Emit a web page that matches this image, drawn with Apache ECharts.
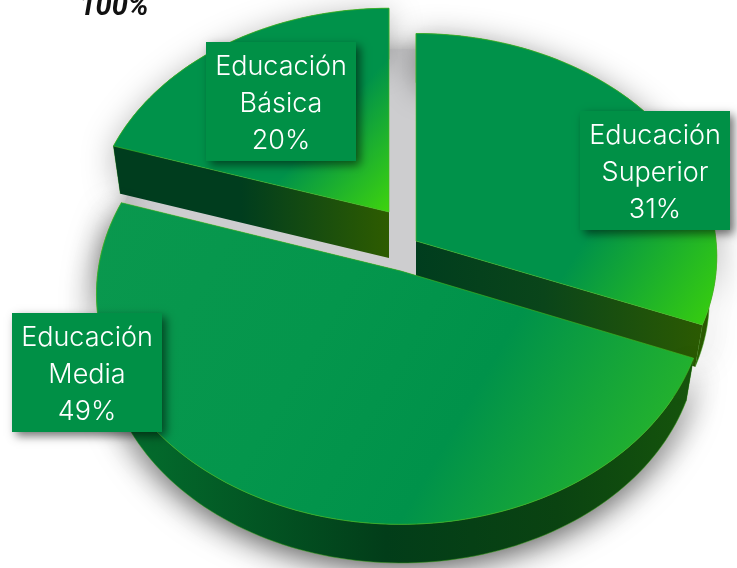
<!DOCTYPE html>
<html><head><meta charset="utf-8">
<style>html,body{margin:0;padding:0;background:#fff}#c{width:737px;height:568px}</style>
<script src="https://cdn.jsdelivr.net/npm/echarts@6/dist/echarts.min.js"></script>
</head><body><div id="c"></div>
<script>
var categories = ["Educación Superior", "Educación Media", "Educación Básica"];
var values = [31, 49, 20];
var totalLabel = "100%";

// geometry of each exploded slice (order as categories)
var sliceGeom = [
  {cx:416, cy:241, rx:300, ry:222, k:0.07, d:44, sh:0.4,
   top:[[580,248],[708,330],['#00924a',0],['#38ce0e',1]],
   wall:[[416,0],[700,0],['#003d1e',0],['#0a451a',0.45],['#2b5a02',1]]},
  {cx:401, cy:271, rx:303, ry:228, k:0.10, d:45, sh:0.7,
   top:[[130,150],[680,470],['#0a984e',0],['#04964c',0.4],['#00924a',0.66],['#2ab828',1]],
   wall:[[130,0],[700,0],['#046e2e',0],['#033e1a',0.45],['#0b4412',0.75],['#17560c',1]]},
  {cx:389, cy:212, rx:296, ry:218, k:0.07, d:46, sh:0.3,
   top:[[310,145],[392,218],['#00924a',0],['#42d80a',1]],
   wall:[[120,0],[389,0],['#003d1e',0],['#003d1e',0.45],['#2e5c00',1]]}
];
var boxes = [
  {x:580, y:111, w:150, h:119},
  {x:12,  y:313, w:150, h:119},
  {x:206, y:42,  w:150, h:119}
];
var drawOrder = [2, 0, 1];
var TOTAL = values.reduce(function(a,b){return a+b;},0);

function project(g, deg, scale, dy){
  var t = deg*Math.PI/180, u = Math.sin(t), v = Math.cos(t);
  var s = scale/(1+g.k*v);
  return [g.cx + g.rx*u*s, g.cy + dy - g.ry*v*s];
}
function arc(g, a0, a1, scale, dy){
  var pts = [], n = Math.max(8, Math.ceil(Math.abs(a1-a0)/1.5));
  for (var i=0;i<=n;i++) pts.push(project(g, a0+(a1-a0)*i/n, scale, dy));
  return pts;
}
function grad(spec){
  return new echarts.graphic.LinearGradient(spec[0][0], spec[0][1], spec[1][0], spec[1][1],
    spec.slice(2).map(function(s){return {offset:s[1], color:s[0]};}), true);
}
function angles(i){
  var before = 0;
  for (var j=0;j<i;j++) before += values[j];
  return [before/TOTAL*360, (before+values[i])/TOTAL*360];
}
var BOTTOM = 0.975;

function renderBackdrop(){
  var g = {cx:403, cy:250, rx:290, ry:215, k:0.07};
  return {type:'polygon', shape:{points:arc(g,0,360,1,0)},
    style:{fill:'#cdcdcf', shadowBlur:22, shadowColor:'rgba(0,0,0,0.35)'}};
}
function renderSlice(params, api){
  var i = api.value(0), g = sliceGeom[i], a = angles(i);
  var topArc = arc(g, a[0], a[1], 1, 0);
  var botArc = arc(g, a[0], a[1], BOTTOM, g.d);
  var apex = [g.cx, g.cy], apexB = [g.cx, g.cy+g.d];
  var kids = [];
  kids.push({type:'polygon', shape:{points:topArc.concat(botArc.slice().reverse())},
    style:{fill:grad(g.wall), stroke:'#3aa018', lineWidth:0.5,
      shadowBlur:32, shadowColor:'rgba(0,0,0,'+g.sh+')', shadowOffsetX:0, shadowOffsetY:5}});
  [[a[0], 0],[a[1], 1]].forEach(function(c){
    var t = project(g, c[0], 1, 0), b = project(g, c[0], BOTTOM, g.d);
    kids.push({type:'polygon', shape:{points:[apex, t, b, apexB]},
      style:{fill:grad(g.wall)}});
  });
  kids.push({type:'polygon', shape:{points:[apex].concat(topArc)},
    style:{fill:grad(g.top), stroke:'#46bd1e', lineWidth:0.6}});
  return {type:'group', children:kids};
}
function renderLabel(params, api){
  var i = api.value(0), b = boxes[i];
  var words = categories[i].split(' ');
  var txt = words.concat([values[i]+'%']).join('\n');
  return {type:'group', children:[
    {type:'rect', shape:{x:b.x,y:b.y,width:b.w,height:b.h},
     style:{fill:'#009046', shadowBlur:9, shadowColor:'rgba(0,0,0,0.55)', shadowOffsetX:4, shadowOffsetY:4}},
    {type:'text', x:b.x+b.w/2, y:b.y+b.h/2+2,
     style:{text:txt, fill:'#ffffff', font:'300 27px Inter', lineHeight:37,
       align:'center', verticalAlign:'middle', textAlign:'center', textVerticalAlign:'middle'}}
  ]};
}
function renderTotal(){
  return {type:'text', x:114, y:22,
    style:{text:totalLabel, fill:'#111', font:'italic bold 29px Roboto',
      align:'center', verticalAlign:'bottom', textAlign:'center', textVerticalAlign:'bottom'}};
}
var chart = echarts.init(document.getElementById('c'), null, {renderer:'canvas'});
chart.setOption({
  animation:false, backgroundColor:'#ffffff',
  series:[
    {type:'custom', coordinateSystem:'none', z:1, silent:true, data:[[0]], renderItem:renderBackdrop},
    {type:'custom', coordinateSystem:'none', z:2, silent:true,
     data:drawOrder.map(function(i){return [i, values[i]];}), renderItem:renderSlice},
    {type:'custom', coordinateSystem:'none', z:3, silent:true,
     data:values.map(function(v,i){return [i, v];}), renderItem:renderLabel},
    {type:'custom', coordinateSystem:'none', z:4, silent:true, data:[[0]], renderItem:renderTotal}
  ]
});
</script></body></html>
